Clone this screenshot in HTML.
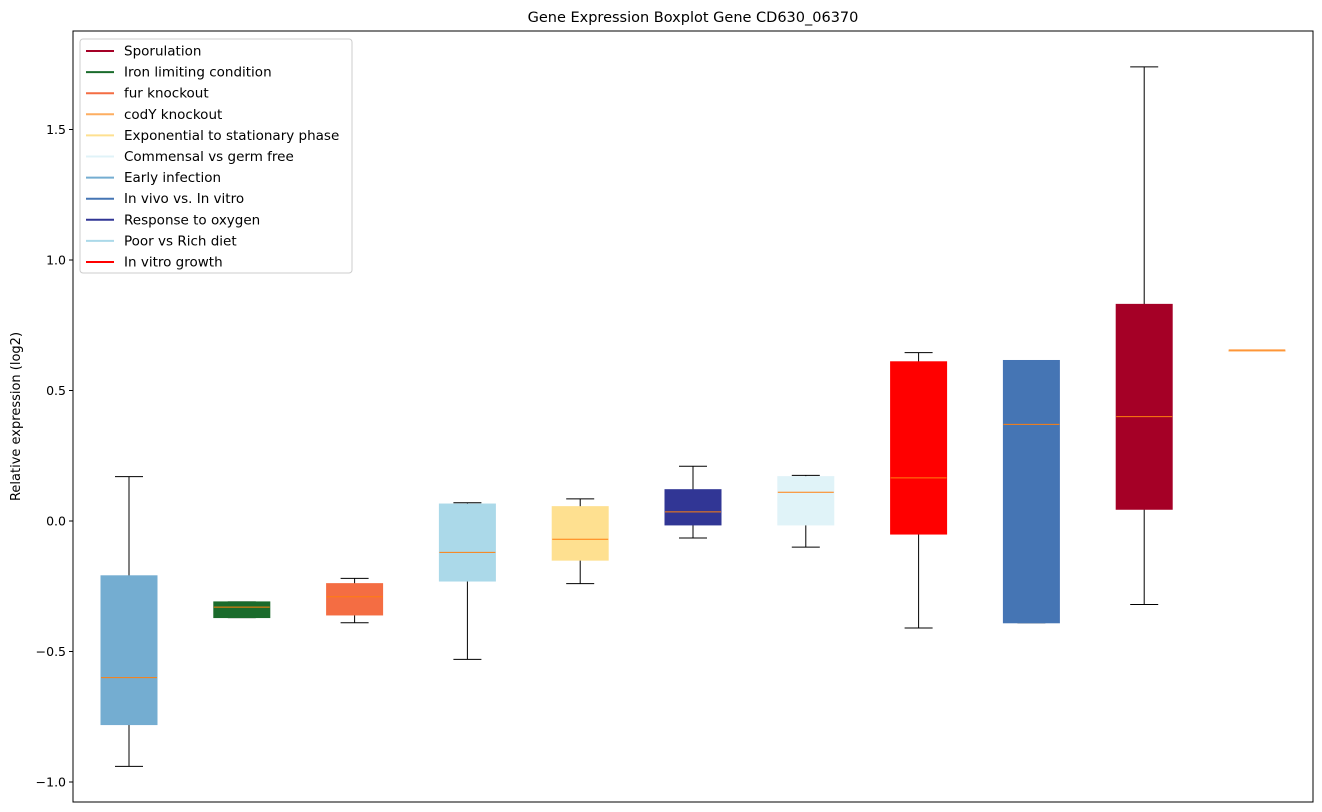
<!DOCTYPE html>
<html><head><meta charset="utf-8">
<style>
html,body{margin:0;padding:0;background:#fff;}
svg{display:block;font-family:"DejaVu Sans","Liberation Sans",sans-serif;}
</style></head>
<body>
<svg id="chart" width="1322" height="812"></svg>
<script>
const categories = ["Early infection","Iron limiting condition","fur knockout","Poor vs Rich diet","Exponential to stationary phase","Response to oxygen","Commensal vs germ free","In vitro growth","In vivo vs. In vitro","Sporulation","Extra"];
const whiskerLow = [-0.94,-0.37,-0.39,-0.53,-0.24,-0.065,-0.10,-0.41,-0.39,-0.32,0.655];
const q1Values   = [-0.78,-0.37,-0.36,-0.23,-0.15,-0.015,-0.015,-0.05,-0.39,0.045,0.655];
const medians    = [-0.60,-0.33,-0.29,-0.12,-0.07,0.035,0.11,0.165,0.37,0.40,0.655];
const q3Values   = [-0.21,-0.31,-0.24,0.065,0.055,0.12,0.17,0.61,0.615,0.83,0.655];
const whiskerHigh= [0.17,-0.31,-0.22,0.07,0.085,0.21,0.175,0.645,0.615,1.74,0.655];
const boxColors  = ["#74add1","#1a6b2b","#f46d43","#abd9e9","#fee090","#313695","#e0f3f8","#ff0000","#4575b4","#a50026","#fdae61"];
const yTicks = [-1.0,-0.5,0.0,0.5,1.0,1.5];
const yTickLabels = ["\u22121.0","\u22120.5","0.0","0.5","1.0","1.5"];
const legendLabels = ["Sporulation","Iron limiting condition","fur knockout","codY knockout","Exponential to stationary phase","Commensal vs germ free","Early infection","In vivo vs. In vitro","Response to oxygen","Poor vs Rich diet","In vitro growth"];
const legendColors = ["#a50026","#1a6b2b","#f46d43","#fdae61","#fee090","#e0f3f8","#74add1","#4575b4","#313695","#abd9e9","#ff0000"];

const NS="http://www.w3.org/2000/svg";
const svg=document.getElementById('chart');
const L=73,R=1313,T=31,B=802;
const y=v=>521-v*261;
const x=i=>129+i*112.8;
const BW=56;
function mk(tag,attrs,parent){const e=document.createElementNS(NS,tag);for(const k in attrs)e.setAttribute(k,attrs[k]);(parent||svg).appendChild(e);return e;}

const title=mk('text',{x:(L+R)/2,y:22,'text-anchor':'middle','font-size':14.5,fill:'#000'});


title.textContent="Gene Expression Boxplot Gene CD630_06370";

const yl=mk('text',{x:0,y:0,'text-anchor':'middle','font-size':13,fill:'#000',transform:`translate(20,${(T+B)/2}) rotate(-90)`});


yl.textContent="Relative expression (log2)";

yTicks.forEach((v,i)=>{
  const g=mk('g',{});
  
  
  mk('line',{x1:L-4,x2:L,y1:y(v),y2:y(v),stroke:'#000','stroke-width':1},g);
  const t=mk('text',{x:L-7,y:y(v)+4.5,'text-anchor':'end','font-size':12.5,fill:'#000'},g);
  t.textContent=yTickLabels[i];
});

categories.forEach((c,i)=>{
  const g=mk('g',{});
  
  
  const cx=x(i);
  mk('line',{x1:cx,x2:cx,y1:y(whiskerHigh[i]),y2:y(q3Values[i]),stroke:'#000','stroke-width':1},g);
  mk('line',{x1:cx,x2:cx,y1:y(q1Values[i]),y2:y(whiskerLow[i]),stroke:'#000','stroke-width':1},g);
  mk('line',{x1:cx-BW/4,x2:cx+BW/4,y1:y(whiskerHigh[i]),y2:y(whiskerHigh[i]),stroke:'#000','stroke-width':1},g);
  mk('line',{x1:cx-BW/4,x2:cx+BW/4,y1:y(whiskerLow[i]),y2:y(whiskerLow[i]),stroke:'#000','stroke-width':1},g);
  const h=Math.max(y(q1Values[i])-y(q3Values[i]),1);
  mk('rect',{x:cx-BW/2,y:y(q3Values[i]),width:BW,height:h,fill:boxColors[i],stroke:boxColors[i]},g);
  mk('line',{x1:cx-BW/2,x2:cx+BW/2,y1:y(medians[i]),y2:y(medians[i]),stroke:'#ff7f0e','stroke-width':1},g);
});

mk('rect',{x:L,y:T,width:R-L,height:B-T,fill:'none',stroke:'#000','stroke-width':1});

const lg=mk('g',{});


mk('rect',{x:80,y:39,width:272,height:234,rx:3,fill:'#fff','fill-opacity':0.8,stroke:'#ccc'},lg);
legendLabels.forEach((lab,i)=>{
  const e=mk('g',{},lg);
  
  
  const yy=51+i*21.1;
  mk('line',{x1:86,x2:114,y1:yy,y2:yy,stroke:legendColors[i],'stroke-width':2},e);
  const t=mk('text',{x:124,y:yy+4.5,'font-size':13.5,fill:'#000'},e);
  t.textContent=lab;
});
</script>
</body></html>
